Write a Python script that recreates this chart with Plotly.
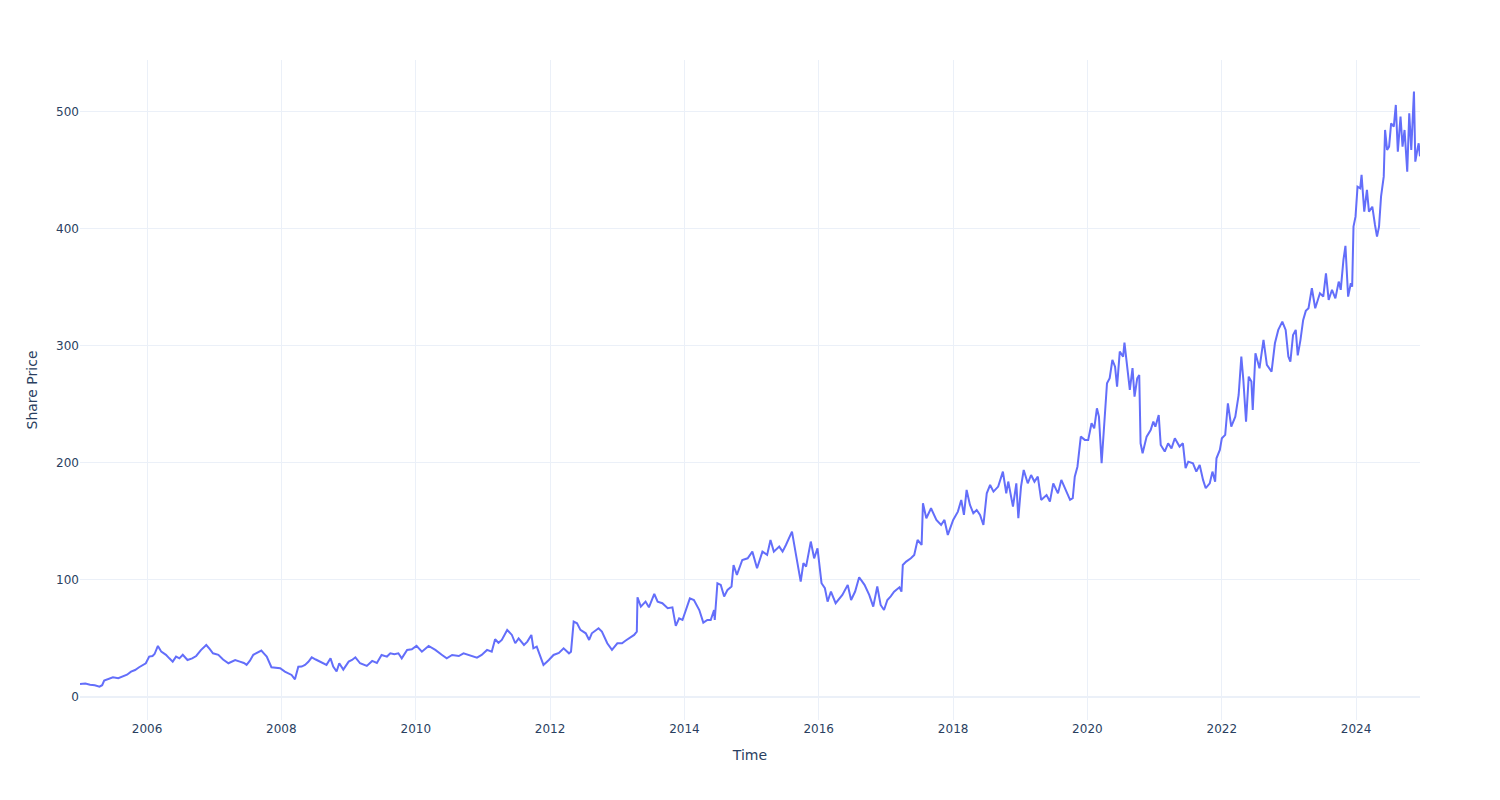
import pandas as pd
import plotly.graph_objects as go

# Decimal-year positions of the readings and share prices
t_years = [
    2005.00, 2005.08, 2005.15, 2005.22, 2005.29, 2005.33, 2005.36, 2005.42, 2005.49, 2005.57,
    2005.64, 2005.70, 2005.76, 2005.82, 2005.88, 2005.93, 2005.98, 2006.03, 2006.08, 2006.11,
    2006.16, 2006.21, 2006.28, 2006.33, 2006.38, 2006.43, 2006.48, 2006.53, 2006.60, 2006.67,
    2006.73, 2006.80, 2006.88, 2006.93, 2006.98, 2007.06, 2007.13, 2007.21, 2007.31, 2007.38,
    2007.44, 2007.48, 2007.53, 2007.58, 2007.64, 2007.70, 2007.74, 2007.78, 2007.85, 2007.92,
    2007.98, 2008.05, 2008.10, 2008.15, 2008.20, 2008.25, 2008.30, 2008.35, 2008.40, 2008.45,
    2008.51, 2008.57, 2008.67, 2008.73, 2008.77, 2008.82, 2008.86, 2008.92, 2009.00, 2009.05,
    2009.10, 2009.17, 2009.27, 2009.35, 2009.42, 2009.49, 2009.57, 2009.62, 2009.68, 2009.74,
    2009.79, 2009.87, 2009.94, 2010.01, 2010.09, 2010.19, 2010.29, 2010.39, 2010.46, 2010.54,
    2010.64, 2010.71, 2010.79, 2010.91, 2010.98, 2011.06, 2011.13, 2011.18, 2011.23, 2011.28,
    2011.36, 2011.43, 2011.48, 2011.53, 2011.61, 2011.66, 2011.72, 2011.75, 2011.80, 2011.86,
    2011.90, 2011.98, 2012.05, 2012.13, 2012.20, 2012.28, 2012.31, 2012.35, 2012.40, 2012.45,
    2012.53, 2012.58, 2012.62, 2012.72, 2012.77, 2012.85, 2012.92, 2013.00, 2013.07, 2013.12,
    2013.17, 2013.25, 2013.29, 2013.30, 2013.35, 2013.42, 2013.47, 2013.55, 2013.60, 2013.67,
    2013.75, 2013.82, 2013.87, 2013.92, 2013.97, 2014.02, 2014.08, 2014.14, 2014.22, 2014.28,
    2014.34, 2014.39, 2014.44, 2014.45, 2014.49, 2014.54, 2014.59, 2014.64, 2014.70, 2014.73,
    2014.78, 2014.86, 2014.94, 2015.01, 2015.08, 2015.16, 2015.23, 2015.28, 2015.33, 2015.41,
    2015.46, 2015.51, 2015.55, 2015.60, 2015.66, 2015.73, 2015.77, 2015.81, 2015.88, 2015.93,
    2015.98, 2016.00, 2016.04, 2016.09, 2016.13, 2016.18, 2016.25, 2016.35, 2016.43, 2016.48,
    2016.54, 2016.60, 2016.68, 2016.75, 2016.81, 2016.87, 2016.92, 2016.97, 2017.02, 2017.07,
    2017.12, 2017.20, 2017.23, 2017.25, 2017.30, 2017.37, 2017.42, 2017.47, 2017.53, 2017.55,
    2017.60, 2017.67, 2017.75, 2017.82, 2017.87, 2017.92, 2018.00, 2018.07, 2018.12, 2018.16,
    2018.20, 2018.25, 2018.30, 2018.35, 2018.40, 2018.45, 2018.50, 2018.55, 2018.60, 2018.67,
    2018.74, 2018.79, 2018.82, 2018.89, 2018.94, 2018.97, 2019.01, 2019.05, 2019.11, 2019.16,
    2019.21, 2019.26, 2019.31, 2019.39, 2019.44, 2019.49, 2019.56, 2019.61, 2019.66, 2019.74,
    2019.78, 2019.81, 2019.85, 2019.90, 2019.96, 2020.01, 2020.06, 2020.10, 2020.14, 2020.17,
    2020.21, 2020.24, 2020.29, 2020.33, 2020.37, 2020.41, 2020.44, 2020.48, 2020.53, 2020.55,
    2020.59, 2020.63, 2020.67, 2020.70, 2020.74, 2020.77, 2020.79, 2020.82, 2020.88, 2020.94,
    2020.98, 2021.01, 2021.06, 2021.09, 2021.15, 2021.20, 2021.25, 2021.30, 2021.37, 2021.42,
    2021.46, 2021.50, 2021.57, 2021.62, 2021.67, 2021.72, 2021.76, 2021.82, 2021.86, 2021.90,
    2021.92, 2021.97, 2022.00, 2022.05, 2022.09, 2022.14, 2022.20, 2022.25, 2022.29, 2022.32,
    2022.36, 2022.40, 2022.44, 2022.46, 2022.50, 2022.56, 2022.62, 2022.67, 2022.74, 2022.79,
    2022.84, 2022.90, 2022.95, 2022.99, 2023.02, 2023.06, 2023.10, 2023.13, 2023.17, 2023.21,
    2023.25, 2023.29, 2023.34, 2023.39, 2023.46, 2023.51, 2023.55, 2023.59, 2023.64, 2023.69,
    2023.74, 2023.77, 2023.81, 2023.84, 2023.88, 2023.92, 2023.94, 2023.96, 2023.99, 2024.02,
    2024.06, 2024.08, 2024.12, 2024.16, 2024.19, 2024.24, 2024.28, 2024.31, 2024.34, 2024.37,
    2024.41, 2024.43, 2024.46, 2024.49, 2024.52, 2024.56, 2024.59, 2024.62, 2024.66, 2024.69,
    2024.72, 2024.76, 2024.79, 2024.82, 2024.86, 2024.88, 2024.91, 2024.93, 2024.95,
]

share_price = [
    11.0, 11.5, 10.5, 10.0, 8.8, 10.0, 14.0, 15.0, 16.8, 16.0,
    17.4, 19.0, 21.6, 23.0, 25.4, 27.0, 28.8, 34.5, 35.0, 36.7,
    43.6, 38.7, 36.0, 33.0, 30.2, 34.5, 33.0, 36.0, 31.6, 33.0,
    35.0, 40.0, 44.4, 41.0, 37.3, 36.0, 32.0, 28.8, 31.6, 30.2,
    29.0, 27.4, 31.0, 36.0, 38.0, 39.6, 37.0, 34.5, 25.4, 25.0,
    24.5, 21.7, 20.5, 18.8, 15.1, 25.9, 26.0, 27.4, 30.0, 33.9,
    32.0, 30.2, 27.4, 33.0, 25.9, 21.7, 28.8, 23.4, 30.2, 31.6,
    33.9, 28.8, 26.5, 30.8, 29.1, 35.9, 34.5, 37.3, 36.5, 37.3,
    33.0, 40.2, 40.7, 43.6, 38.7, 43.6, 40.2, 35.9, 33.0, 35.9,
    35.0, 37.3, 35.9, 33.6, 35.9, 40.2, 38.7, 49.3, 46.3, 48.7,
    57.3, 53.0, 45.9, 50.1, 44.4, 47.3, 53.0, 41.6, 43.0, 34.5,
    27.4, 31.6, 35.9, 37.6, 41.6, 37.3, 38.7, 64.4, 63.0, 57.3,
    54.4, 48.7, 54.4, 58.7, 55.8, 45.9, 40.2, 45.9, 45.9, 48.0,
    50.1, 53.0, 55.8, 85.2, 77.2, 81.5, 76.6, 88.0, 81.5, 80.1,
    75.8, 76.6, 60.7, 67.2, 65.8, 74.9, 84.3, 82.9, 74.3, 63.5,
    65.8, 65.8, 74.3, 65.8, 97.2, 95.8, 85.8, 91.5, 94.4, 112.8,
    104.3, 117.1, 118.5, 124.2, 110.0, 124.2, 121.4, 134.2, 124.2, 128.5,
    124.2, 129.9, 135.6, 141.3, 121.4, 98.6, 114.3, 111.4, 132.8, 118.5,
    127.1, 117.1, 97.2, 92.9, 81.5, 90.1, 80.1, 87.2, 95.8, 82.9,
    90.1, 102.3, 95.8, 87.2, 77.2, 94.4, 78.6, 74.3, 82.9, 86.0,
    90.0, 93.7, 90.0, 112.8, 115.7, 118.5, 121.4, 134.2, 129.9, 165.5,
    152.7, 161.3, 151.3, 147.0, 151.3, 138.5, 151.3, 158.4, 168.4, 155.6,
    176.9, 164.1, 157.0, 159.8, 155.6, 147.0, 174.1, 181.2, 175.5, 179.8,
    192.6, 174.1, 184.1, 162.7, 182.6, 152.7, 179.8, 194.0, 182.6, 189.7,
    184.0, 188.3, 168.4, 172.6, 167.0, 182.6, 174.0, 185.5, 178.4, 168.4,
    169.8, 188.3, 196.8, 222.5, 219.7, 219.7, 233.9, 229.6, 246.7, 239.6,
    199.7, 222.5, 268.1, 272.4, 288.0, 282.3, 265.2, 295.1, 290.9, 302.8,
    279.5, 262.4, 281.0, 256.7, 272.4, 275.2, 216.8, 208.3, 222.5, 228.2,
    235.3, 231.0, 241.0, 215.4, 209.7, 216.8, 212.5, 221.1, 214.0, 216.8,
    195.5, 201.1, 199.7, 192.6, 198.3, 185.5, 178.4, 182.6, 192.6, 184.0,
    204.0, 211.1, 221.1, 224.0, 251.0, 231.0, 239.6, 258.1, 290.9, 270.9,
    235.3, 273.8, 269.5, 245.3, 293.7, 280.9, 305.1, 283.8, 278.0, 302.3,
    313.7, 320.8, 313.7, 290.9, 286.6, 309.4, 313.7, 292.0, 305.0, 322.0,
    330.0, 332.2, 349.3, 332.2, 345.0, 342.2, 362.1, 339.3, 348.0, 340.7,
    355.0, 348.0, 373.5, 385.5, 342.2, 353.6, 350.7, 402.0, 410.5, 436.2,
    434.8, 446.2, 414.8, 433.4, 414.8, 419.0, 403.4, 393.4, 402.0, 427.6,
    444.7, 484.6, 467.5, 470.4, 490.3, 487.5, 506.0, 466.1, 496.0, 470.4,
    484.6, 449.0, 498.9, 467.5, 517.4, 457.5, 467.5, 473.2, 462.1,
]

x_title = "Time"
y_title = "Share Price"

base = pd.Timestamp("2005-01-01")
dates = [base + pd.Timedelta(days=(t - 2005.0) * 365.25) for t in t_years]

fig = go.Figure(
    go.Scatter(
        x=dates,
        y=share_price,
        mode="lines",
        line=dict(color="#636efa", width=2),
        name="Share Price",
    )
)

fig.update_layout(
    template="plotly_white",
    width=1500,
    height=800,
    margin=dict(l=80, r=80, t=60, b=80),
    showlegend=False,
    font=dict(family="DejaVu Sans, Verdana, sans-serif"),
    xaxis=dict(title=dict(text=x_title)),
    yaxis=dict(title=dict(text=y_title), range=[-19.7, 544.4]),
)

fig.write_html("out.html")
